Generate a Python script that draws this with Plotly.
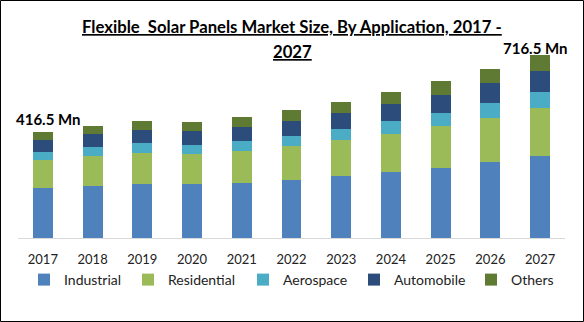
import plotly.graph_objects as go

years = ["2017", "2018", "2019", "2020", "2021", "2022", "2023", "2024", "2025", "2026", "2027"]
industrial = [195, 203, 211, 211, 215, 227, 242, 258, 274, 297, 321]
residential = [110, 118, 122, 118, 126, 134, 141, 149, 165, 173, 189]
aerospace = [33, 35, 39, 35, 39, 39, 43, 51, 51, 59, 63]
automobile = [46, 51, 51, 55, 55, 59, 63, 67, 71, 79, 83]
others = [32.5, 31, 37, 35, 39, 43, 43, 47, 55, 55, 60.5]

title_lines = ["Flexible\u00a0 Solar Panels Market Size, By Application, 2017 -", "2027"]

series = [
    ("Industrial", industrial, "#4F81BD", 59),
    ("Residential", residential, "#9BBB59", 70),
    ("Aerospace", aerospace, "#4BACC6", 66),
    ("Automobile", automobile, "#2C4D7C", 72),
    ("Others", others, "#5F7A33", 45),
]

FONT = "Lato"

fig = go.Figure()
for name, vals, color, lw in series:
    fig.add_trace(go.Bar(x=years, y=vals, name=name, marker=dict(color=color, line=dict(width=0)),
                         legendwidth=lw))

W, H = 584, 322
ml, mr, mt, mb = 18, 19, 34, 84
pw = W - ml - mr
ph = H - mt - mb

fig.update_layout(
    width=W, height=H,
    margin=dict(l=ml, r=mr, t=mt, b=mb),
    paper_bgcolor="white", plot_bgcolor="white",
    barmode="stack", bargap=0.6,
    font=dict(family=FONT, color="#222222"),
    xaxis=dict(showline=True, linecolor="#D9D9D9", linewidth=1, showgrid=False,
               tickfont=dict(family=FONT, size=13, color="#222222"), ticks="",
               ticklabelstandoff=9,
               range=[-0.5, 10.5], fixedrange=True),
    yaxis=dict(visible=False, range=[0, 800], showgrid=False),
    legend=dict(orientation="h", x=(24 - ml) / pw, xanchor="left", y=(238 - 280) / ph, yanchor="middle",
                font=dict(family=FONT, size=14, color="#222222"), traceorder="normal"),
    showlegend=True,
)

# title lines (two lines with Excel-like spacing)
for i, (line, yc) in enumerate(zip(title_lines, [27, 52])):
    fig.add_annotation(text="<b><u>" + line + "</u></b>", xref="paper", yref="paper",
                       x=(292 - ml) / pw, y=(H - mb - yc) / ph, showarrow=False,
                       font=dict(family=FONT, size=16.7, color="#000000"),
                       xanchor="center", yanchor="middle")

fig.add_annotation(text="<b>416.5 Mn</b>", xref="paper", yref="paper",
                   x=(48.5 - ml) / pw, y=(238 - 119) / ph, showarrow=False,
                   font=dict(family=FONT, size=15, color="#000000"), xanchor="center", yanchor="middle")
fig.add_annotation(text="<b>716.5 Mn</b>", xref="paper", yref="paper",
                   x=(535 - ml) / pw, y=(238 - 48) / ph, showarrow=False,
                   font=dict(family=FONT, size=15, color="#000000"), xanchor="center", yanchor="middle")

# outer frame
fig.add_shape(type="rect", xref="paper", yref="paper",
              x0=(0.5 - ml) / pw, x1=(W - 0.5 - ml) / pw,
              y0=-(H - 0.5 - (H - mb)) / ph, y1=(H - mb - 0.5) / ph,
              line=dict(color="#000000", width=1), fillcolor="rgba(0,0,0,0)", layer="above")

fig.write_html("out.html")
